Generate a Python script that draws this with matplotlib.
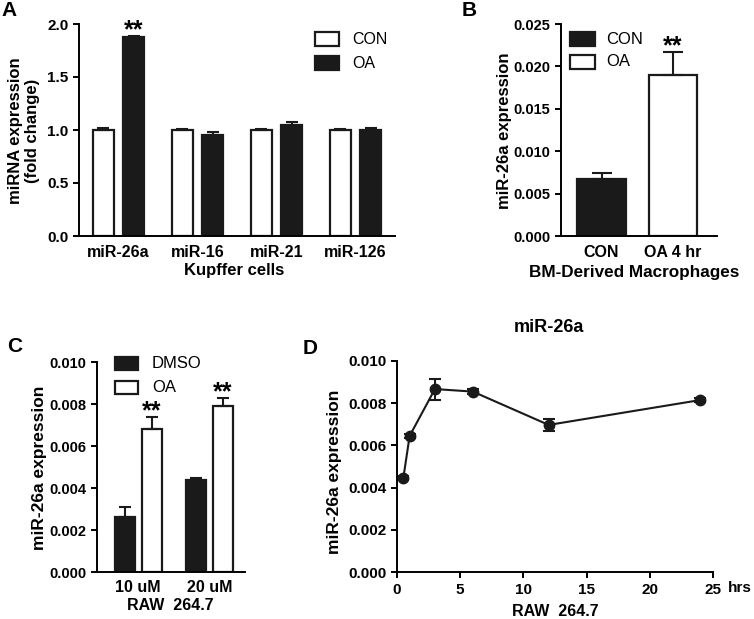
import numpy as np
import matplotlib
matplotlib.use("Agg")
import matplotlib.pyplot as plt

plt.rcParams['font.family'] = ['Liberation Sans', 'DejaVu Sans']
plt.rcParams['font.weight'] = 'bold'
plt.rcParams['axes.linewidth'] = 1.4

# ---- data ----
# A: Kupffer cells
a_cats = ["miR-26a", "miR-16", "miR-21", "miR-126"]
a_con = [1.0, 1.0, 1.0, 1.0]
a_con_err = [0.02, 0.01, 0.01, 0.01]
a_oa = [1.88, 0.95, 1.05, 1.0]
a_oa_err = [0.01, 0.03, 0.03, 0.02]

# B: BM-derived macrophages
b_cats = ["CON", "OA 4 hr"]
b_vals = [0.0067, 0.0190]
b_err = [0.0007, 0.0027]

# C: RAW 264.7 dose
c_cats = ["10 uM", "20 uM"]
c_dmso = [0.0026, 0.0044]
c_dmso_err = [0.0005, 0.0001]
c_oa = [0.0068, 0.0079]
c_oa_err = [0.0006, 0.0004]

# D: time course
d_hrs = [0.5, 1, 3, 6, 12, 24]
d_vals = [0.00445, 0.00645, 0.00867, 0.00855, 0.00697, 0.00815]
d_err = [0.0001, 0.0001, 0.0005, 0.0001, 0.0003, 0.0001]

W, H = 754, 619
DARK = '#1a1a1a'
fig = plt.figure(figsize=(W / 100, H / 100), dpi=100)


def ax_at(l, r, t, b):
    return fig.add_axes([l / W, 1 - b / H, (r - l) / W, (b - t) / H])


def ftext(x, y, s, **kw):
    # text placed in pixel coords (from top-left)
    kw.setdefault('ha', 'center')
    kw.setdefault('va', 'center')
    kw.setdefault('fontweight', 'bold')
    fig.text(x / W, 1 - y / H, s, **kw)


def style(ax, size):
    ax.spines['top'].set_visible(False)
    ax.spines['right'].set_visible(False)
    ax.tick_params(axis='both', direction='out', length=4, width=1.4, labelsize=size)
    for lab in ax.get_xticklabels() + ax.get_yticklabels():
        lab.set_fontweight('bold')


def legend_box(x0, x1, yc, filled, text, tx, size):
    h = 13
    fig.patches.append(plt.Rectangle((x0 / W, 1 - (yc + h / 2) / H), (x1 - x0) / W, h / H,
                                     transform=fig.transFigure,
                                     facecolor=DARK if filled else 'white',
                                     edgecolor=DARK, lw=1.6))
    ftext(tx, yc, text, ha='left', fontsize=size, fontweight='normal')


def stars(ax, x, top):
    ax.annotate("**", (x, top), xytext=(0, -1), textcoords='offset points',
                ha='center', va='baseline', fontsize=18, fontweight='bold')


ekw = dict(ecolor=DARK, elinewidth=1.5, capsize=4, capthick=1.5)

# ---- A ----
ax = ax_at(79, 395, 24, 236)
x = np.arange(len(a_cats))
bw = 0.27
ax.bar(x - 0.19, a_con, bw, color='white', edgecolor=DARK, lw=1.6,
       yerr=[np.zeros(4), a_con_err], error_kw=ekw)
ax.bar(x + 0.19, a_oa, bw, color=DARK, edgecolor=DARK, lw=1.6,
       yerr=[np.zeros(4), a_oa_err], error_kw=ekw)
ax.set_xlim(-0.5, 3.5)
ax.set_ylim(0, 2.0)
ax.set_yticks([0, 0.5, 1.0, 1.5, 2.0])
ax.set_yticklabels(["0.0", "0.5", "1.0", "1.5", "2.0"])
ax.set_xticks(x)
ax.set_xticklabels(a_cats)
style(ax, 11)
ax.tick_params(axis='x', length=0, pad=6.5, labelsize=11.5)
stars(ax, 0.19, a_oa[0] + a_oa_err[0])
ftext(24, 131, "miRNA expression\n(fold change)", rotation=90, fontsize=12,
      linespacing=1.1)
ftext(234, 271, "Kupffer cells", fontsize=12)
legend_box(315, 339, 39, False, "CON", 352, 11.5)
legend_box(315, 339, 63, True, "OA", 352, 11.5)
ftext(9, 11, "A", fontsize=15)

# ---- B ----
ax = ax_at(561, 717, 24, 236)
x = np.arange(len(b_cats))
ax.bar(x, b_vals, 0.68, color=[DARK, 'white'], edgecolor=DARK, lw=1.6,
       yerr=[np.zeros(2), b_err], error_kw=dict(ekw, capsize=7))
ax.set_xlim(-0.57, 1.62)
ax.set_ylim(0, 0.025)
ax.set_yticks([0, 0.005, 0.010, 0.015, 0.020, 0.025])
ax.set_yticklabels(["0.000", "0.005", "0.010", "0.015", "0.020", "0.025"])
ax.set_xticks(x)
ax.set_xticklabels(b_cats)
style(ax, 10.5)
ax.tick_params(axis='x', length=0, pad=6.5, labelsize=11.5)
stars(ax, 1, b_vals[1] + b_err[1])
ftext(505, 131, "miR-26a expression", rotation=90, fontsize=12)
ftext(634, 272, "BM-Derived Macrophages", fontsize=12.3)
legend_box(570, 595, 39, True, "CON", 606, 12)
legend_box(570, 595, 62, False, "OA", 606, 12)
ftext(469, 11, "B", fontsize=15)

# ---- C ----
ax = ax_at(97, 245, 362, 572)
x = np.arange(len(c_cats))
ax.bar(x - 0.19, c_dmso, 0.28, color=DARK, edgecolor=DARK, lw=1.6,
       yerr=[np.zeros(2), c_dmso_err], error_kw=ekw)
ax.bar(x + 0.19, c_oa, 0.28, color='white', edgecolor=DARK, lw=1.6,
       yerr=[np.zeros(2), c_oa_err], error_kw=ekw)
ax.set_xlim(-0.58, 1.5)
ax.set_ylim(0, 0.010)
ax.set_yticks([0, 0.002, 0.004, 0.006, 0.008, 0.010])
ax.set_yticklabels(["0.000", "0.002", "0.004", "0.006", "0.008", "0.010"])
ax.set_xticks(x)
ax.set_xticklabels(c_cats)
style(ax, 10.5)
ax.tick_params(axis='x', length=0, pad=6, labelsize=11.5)
for xi, v, e in zip(x, c_oa, c_oa_err):
    stars(ax, xi + 0.19, v + e)
ftext(40, 468, "miR-26a expression", rotation=90, fontsize=12.5)
ftext(170, 606, "RAW  264.7", fontsize=11.5)
legend_box(115, 138, 363, True, "DMSO", 152, 12)
legend_box(115, 138, 387, False, "OA", 152, 12)
ftext(15, 346, "C", fontsize=15)

# ---- D ----
ax = ax_at(397, 713, 361, 572)
ax.errorbar(d_hrs, d_vals, yerr=d_err, color=DARK, lw=1.5, marker='o',
            markersize=7.5, capsize=4, capthick=1.5, elinewidth=1.5, clip_on=False)
ax.set_xlim(0, 25)
ax.set_ylim(0, 0.010)
ax.set_xticks([0, 5, 10, 15, 20, 25])
ax.set_yticks([0, 0.002, 0.004, 0.006, 0.008, 0.010])
ax.set_yticklabels(["0.000", "0.002", "0.004", "0.006", "0.008", "0.010"])
style(ax, 11)
ax.tick_params(axis='x', pad=4)
ftext(335, 472, "miR-26a expression", rotation=90, fontsize=12.5)
ftext(555, 612, "RAW  264.7", fontsize=11.5)
ftext(549, 328, "miR-26a", fontsize=13)
ftext(728, 588, "hrs", ha='left', fontsize=11)
ftext(310, 348, "D", fontsize=15)

fig.savefig("out.png", dpi=100)
